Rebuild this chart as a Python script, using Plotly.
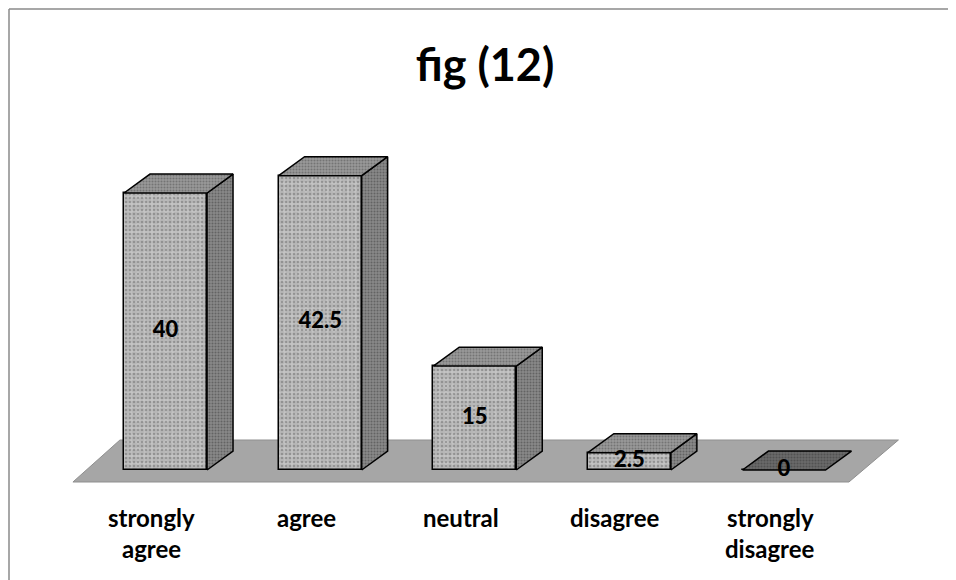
import plotly.graph_objects as go

# ---- data ----
categories = ["strongly agree", "agree", "neutral", "disagree", "strongly disagree"]
label_lines = [["strongly", "agree"], ["agree"], ["neutral"], ["disagree"], ["strongly", "disagree"]]
values = [40, 42.5, 15, 2.5, 0]
title_text = "fig (12)"

# ---- style / geometry ----
FONT = "Lato"
BAR_W = 0.537      # front-face width in category units
DX = 0.168         # depth offset (x, category units)
DY = 2.74          # depth offset (y, value units)
L, R, T, B = 32, 24, 112, 88
W, H = 956, 580
PW, PH = W - L - R, H - T - B
XR = [-0.812, 5.009]
YR = [-4.332, 50.54]
EDGE = dict(color="black", width=1.5)

front_pat = dict(shape=".", bgcolor="#c4c4c4", fgcolor="#707070", size=4, solidity=0.35)
front_pat2 = dict(shape=".", bgcolor="rgba(0,0,0,0)", fgcolor="rgba(80,80,80,0.22)", size=7, solidity=0.6)
side_pat = dict(shape=".", bgcolor="#8a8a8a", fgcolor="#3c3c3c", size=3, solidity=0.4)
top_pat = dict(shape=".", bgcolor="#9a9a9a", fgcolor="#4e4e4e", size=3, solidity=0.4)
flat_pat = dict(shape=".", bgcolor="#6a6a6a", fgcolor="#3a3a3a", size=3, solidity=0.4)

xs = list(range(len(categories)))
fig = go.Figure()

# front faces
fig.add_trace(go.Bar(
    x=xs, y=values, width=BAR_W,
    marker=dict(color="#c4c4c4", pattern=front_pat, line=dict(width=0)),
    hoverinfo="skip", showlegend=False,
))
fig.add_trace(go.Bar(
    x=xs, y=values, width=BAR_W,
    marker=dict(color="rgba(0,0,0,0)", pattern=front_pat2, line=EDGE),
    hoverinfo="skip", showlegend=False,
))

# side and top faces derived from the data
for i, v in enumerate(values):
    xl, xr = i - BAR_W / 2, i + BAR_W / 2
    if v > 0:
        fig.add_trace(go.Scatter(
            x=[xr, xr + DX, xr + DX, xr, xr], y=[0, DY, v + DY, v, 0],
            mode="lines", fill="toself", fillcolor="#8a8a8a", fillpattern=side_pat,
            line=EDGE, hoverinfo="skip", showlegend=False,
        ))
    fig.add_trace(go.Scatter(
        x=[xl, xr, xr + DX, xl + DX, xl], y=[v, v, v + DY, v + DY, v],
        mode="lines", fill="toself",
        fillcolor="#9a9a9a" if v > 0 else "#6a6a6a",
        fillpattern=top_pat if v > 0 else flat_pat,
        line=EDGE, hoverinfo="skip", showlegend=False,
    ))

# value labels
fig.add_trace(go.Scatter(
    x=xs, y=[v / 2 for v in values], mode="text",
    text=[f"{v:g}" for v in values],
    textfont=dict(family=FONT, size=22, color="black", weight=900),
    hoverinfo="skip", showlegend=False, cliponaxis=False,
))

# floor
n = len(categories)
floor_path = (f"M {-0.599} {-1.733} L {n - 1 + 0.420} {-1.733} "
              f"L {n - 1 + 0.740} {4.332} L {-0.295} {4.332} Z")
bx, by = (1 - L) / PW, (H - B - 1) / PH
shapes = [
    dict(type="path", path=floor_path, xref="x", yref="y", layer="below",
         fillcolor="#a6a6a6", line=dict(color="#8f8f8f", width=1)),
    dict(type="line", xref="paper", yref="paper", x0=bx, y0=by, x1=3, y1=by,
         line=dict(color="#8a8a8a", width=1.5), layer="below"),
    dict(type="line", xref="paper", yref="paper", x0=bx, y0=by, x1=bx, y1=-3,
         line=dict(color="#8a8a8a", width=1.5), layer="below"),
]

# category labels
annotations = []
for i, lines in enumerate(label_lines):
    for k, line in enumerate(lines):
        py = 509 + 31 * k
        annotations.append(dict(
            x=i - 0.09, xref="x", y=(H - B - py) / PH, yref="paper",
            text=f"<b>{line}</b>", showarrow=False, xanchor="center", yanchor="middle",
            font=dict(family=FONT, size=24, color="black"),
        ))

fig.update_layout(
    width=W, height=H,
    margin=dict(l=L, r=R, t=T, b=B),
    paper_bgcolor="white", plot_bgcolor="white",
    title=dict(text=f"<b>{title_text}</b>", x=(485 - 8) / W, xanchor="center",
               y=1 - 57 / H, yanchor="middle", yref="container",
               font=dict(family=FONT, size=45, color="black")),
    xaxis=dict(range=XR, visible=False, fixedrange=True),
    yaxis=dict(range=YR, visible=False, fixedrange=True),
    shapes=shapes, annotations=annotations,
    barmode="overlay", bargap=0,
)

fig.write_html("out.html")
